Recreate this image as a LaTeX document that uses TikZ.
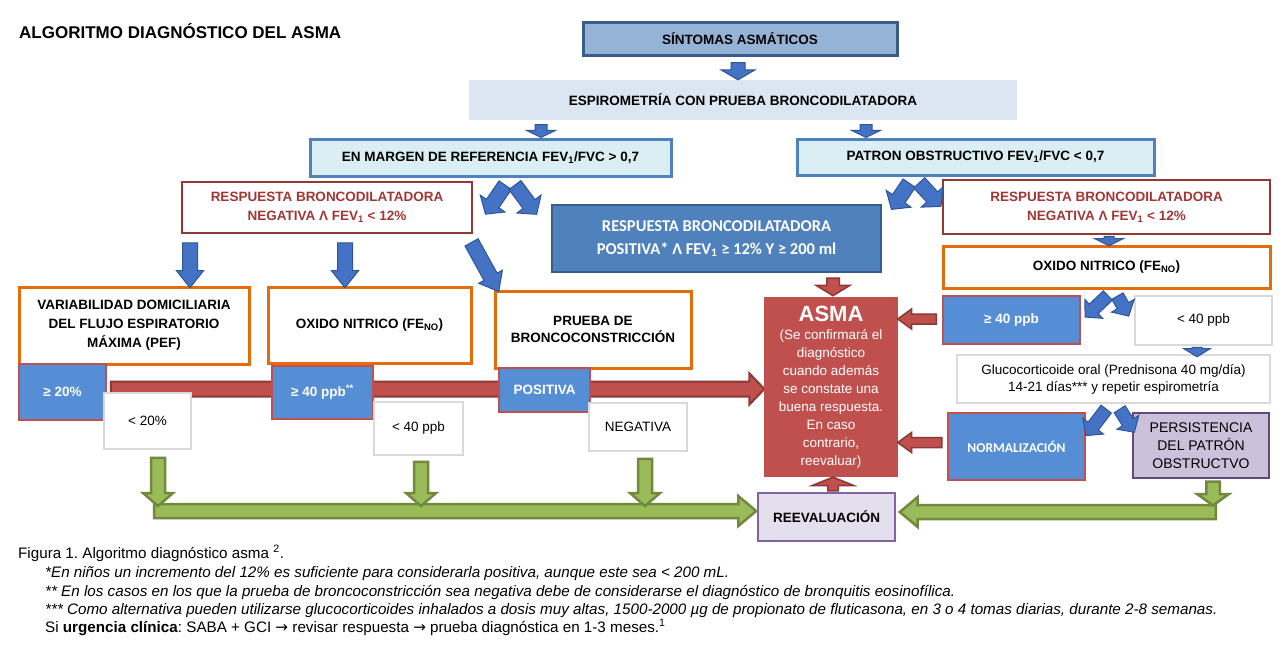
\documentclass[tikz,border=0pt]{standalone}
\usepackage{fontspec}
\setmainfont{Liberation Sans}
\newfontfamily\calfont{Carlito}
\newfontfamily\djv{DejaVu Sans}
\usetikzlibrary{shapes.arrows,calc}
\AtBeginDocument{\frenchspacing}
\pgfdeclarelayer{back}
\pgfsetlayers{back,main}
\newcommand\fs[2]{\fontsize{#1}{#2}\selectfont}
\newcommand\barrow[3]{%
  \path let \p1=#2, \p2=#3, \n1={veclen(\x2-\x1,\y2-\y1)} in
    (\p1) -- node[sloped, allow upside down, #1, minimum height=\n1]{} (\p2);}
\newcommand\bxn[7][]{%
  \pgfmathsetmacro\bxcx{(#3+#5)/2}\pgfmathsetmacro\bxcy{(#4+#6)/2}%
  \pgfmathsetmacro\bxw{#5-#3}\pgfmathsetmacro\bxh{#6-#4}%
  \node[bx, #1, minimum width=\bxw pt, minimum height=\bxh pt] (#2) at (\bxcx,\bxcy) {#7};}
\definecolor{sintF}{RGB}{149,179,215}
\definecolor{sintD}{RGB}{56,93,138}
\definecolor{espF}{RGB}{220,230,242}
\definecolor{marF}{RGB}{218,238,243}
\definecolor{marD}{RGB}{79,129,189}
\definecolor{negD}{RGB}{149,55,53}
\definecolor{negT}{RGB}{160,55,52}
\definecolor{orng}{RGB}{228,108,10}
\definecolor{posF}{RGB}{79,129,189}
\definecolor{posD}{RGB}{56,93,138}
\definecolor{bluF}{RGB}{85,142,213}
\definecolor{redD}{RGB}{192,80,77}
\definecolor{gryD}{RGB}{217,217,217}
\definecolor{asmF}{RGB}{192,80,77}
\definecolor{arrB}{RGB}{68,114,196}
\definecolor{arrBD}{RGB}{47,85,151}
\definecolor{arrR}{RGB}{192,80,77}
\definecolor{arrRD}{RGB}{140,56,54}
\definecolor{grnF}{RGB}{155,187,89}
\definecolor{grnD}{RGB}{113,137,63}
\definecolor{reeF}{RGB}{228,223,236}
\definecolor{reeD}{RGB}{128,100,162}
\definecolor{perF}{RGB}{204,193,218}
\definecolor{perD}{RGB}{96,74,123}
\tikzset{
  bx/.style={inner sep=0pt, align=center},
  bt/.style={font=\bfseries\fs{13.5}{19}},
  rt/.style={font=\fs{13.5}{17}},
  orb/.style={fill=white, draw=orng, line width=3pt, bt},
  blb/.style={fill=bluF, draw=redD, line width=2.5pt, text=white, font=\bfseries\fs{13.5}{16}},
  grb/.style={fill=white, draw=gryD, line width=1.5pt, rt},
  negb/.style={fill=white, draw=negD, line width=2.5pt, bt, text=negT},
  marb/.style={fill=marF, draw=marD, line width=3pt, bt},
  arrbase/.style={single arrow, inner sep=0pt, minimum width=0pt, single arrow head indent=0pt},
  ba/.style={arrbase, draw=arrBD, fill=arrB, line width=1pt},
  ra/.style={arrbase, draw=arrRD, fill=arrR, line width=1.5pt},
  ga/.style={arrbase, draw=grnD, fill=grnF, line width=2.5pt},
  aw/.style n args={3}{inner ysep=#1, single arrow head extend=#2, single arrow tip angle=#3},
  captxt/.style={anchor=base west, inner sep=0pt, font=\fs{15.2}{18}},
}
\begin{document}
\begin{tikzpicture}[x=1pt,y=-1pt]
\useasboundingbox (0,0) rectangle (1286,645);
\begin{pgfonlayer}{back}
\fill[white] (0,0) rectangle (1286,645);
\end{pgfonlayer}

\node[anchor=west, inner sep=0pt, font=\bfseries\fs{17}{20}] (title) at (19,31) {ALGORITMO DIAGNÓSTICO DEL ASMA};

\bxn[fill=sintF, draw=sintD, line width=3pt, bt]{sint}{583}{22}{897}{55}{SÍNTOMAS ASMÁTICOS}
\bxn[fill=espF, bt]{espi}{469}{80}{1017}{120}{ESPIROMETRÍA CON PRUEBA BRONCODILATADORA}
\bxn[marb]{margen}{310}{139}{671}{176}{EN MARGEN DE REFERENCIA FEV\textsubscript{1}/FVC > 0,7}
\bxn[marb]{patron}{797}{139}{1154}{175}{PATRON OBSTRUCTIVO FEV\textsubscript{1}/FVC < 0,7}
\bxn[negb]{negL}{182}{182}{472}{233}{RESPUESTA BRONCODILATADORA\\NEGATIVA Λ FEV\textsubscript{1} < 12\%}
\bxn[negb]{negR}{943}{180}{1270}{234}{RESPUESTA BRONCODILATADORA\\NEGATIVA Λ FEV\textsubscript{1} < 12\%}
\bxn[fill=posF, draw=posD, line width=2.5pt, text=white, font=\calfont\bfseries\fs{16.5}{23}]{posit}{552}{205}{881}{272}{RESPUESTA BRONCODILATADORA\\POSITIVA* Λ FEV\textsubscript{1} ≥ 12\% Y ≥ 200 ml}

\bxn[orb]{oxR}{943}{246}{1270}{288}{OXIDO NITRICO (FE\textsubscript{NO})}
\bxn[blb]{geR}{943}{296}{1080}{344}{≥ 40 ppb}
\bxn[grb]{ltR}{1135}{296}{1272}{345}{< 40 ppb}
\bxn[grb]{gluco}{957}{355}{1270}{403}{Glucocorticoide oral (Prednisona 40 mg/día)\\14-21 días*** y repetir espirometría}
\bxn[fill=bluF, draw=redD, line width=1.5pt, text=white, font=\calfont\bfseries\fs{13.5}{16}]{norm}{948}{413}{1085}{480}{NORMALIZACIÓN}
\bxn[fill=perF, draw=perD, line width=2.5pt, font=\fs{14}{18}]{pers}{1133}{413}{1269}{478}{PERSISTENCIA\\DEL PATRÓN\\OBSTRUCTVO}

\bxn[fill=asmF, text=white, font=\fs{13.5}{18}]{asma}{764}{297}{898}{477}{{\bfseries\fs{22}{24}ASMA}\\(Se confirmará el\\diagnóstico\\cuando además\\se constate una\\buena respuesta.\\En caso\\contrario,\\reevaluar)}
\bxn[fill=reeF, draw=reeD, line width=2pt, bt]{reev}{758}{493}{895}{541}{REEVALUACIÓN}

\bxn[orb]{var}{19}{287}{249}{364}{VARIABILIDAD DOMICILIARIA\\DEL FLUJO ESPIRATORIO\\MÁXIMA (PEF)}
\bxn[orb]{oxL}{268}{287}{471}{363}{OXIDO NITRICO (FE\textsubscript{NO})}
\bxn[orb, font=\bfseries\fs{13.5}{17}]{prueba}{495}{291}{691}{368}{PRUEBA DE\\BRONCOCONSTRICCIÓN}

\bxn[blb]{ge20}{19}{364}{106}{420}{≥ 20\%}
\bxn[grb]{lt20}{104}{393}{191}{449}{< 20\%}
\bxn[blb]{ge40}{272}{366}{373}{419}{≥ 40 ppb\textsuperscript{**}}
\bxn[grb]{lt40}{374}{402}{463}{455}{< 40 ppb}
\bxn[blb]{pos}{499}{368}{590}{412}{POSITIVA}
\bxn[grb]{negat}{589}{403}{687}{451}{NEGATIVA}

% caption
\node[captxt] (cap0) at (18,558) {Figura 1. Algoritmo diagnóstico asma \textsuperscript{2}.};
\node[captxt, font=\itshape\fs{15.2}{18}] (cap1) at (45,577) {*En niños un incremento del 12\% es suficiente para considerarla positiva, aunque este sea < 200 mL.};
\node[captxt, font=\itshape\fs{15.2}{18}] (cap2) at (45,596) {** En los casos en los que la prueba de broncoconstricción sea negativa debe de considerarse el diagnóstico de bronquitis eosinofílica.};
\node[captxt, font=\itshape\fs{15.2}{18}] (cap3) at (45,614) {*** Como alternativa pueden utilizarse glucocorticoides inhalados a dosis muy altas, 1500-2000 µg de propionato de fluticasona, en 3 o 4 tomas diarias, durante 2-8 semanas.};
\node[captxt] (cap4) at (45,632) {Si \textbf{urgencia clínica}: SABA + GCI {\djv →} revisar respuesta {\djv →} prueba diagnóstica en 1-3 meses.\textsuperscript{1}};

% big red arrow behind boxes
\begin{pgfonlayer}{back}
\barrow{ra, line width=2pt, aw={6.5pt}{8pt}{92}}{($(ge20.east)+(0,-3)$)}{($(asma.west |- ge20.east)+(-3,-3)$)}
\end{pgfonlayer}

% blue arrows
\barrow{ba, aw={6.5pt}{10pt}{119}}{($(sint.south -| 738,0)+(0,4)$)}{($(espi.north -| 738,0)+(0,-2)$)}
\barrow{ba, aw={5.5pt}{8.5pt}{128}}{($(espi.south -| 541,0)+(0,3)$)}{($(margen.north -| 541,0)+(0,-1.5)$)}
\barrow{ba, aw={5.5pt}{8.5pt}{128}}{($(espi.south -| 866,0)+(0,3)$)}{($(patron.north -| 866,0)+(0,-1.5)$)}
\barrow{ba, aw={7pt}{7.5pt}{99}}{($(margen.south -| 507,0)+(0,5)$)}{($(negL.east)+(14,4)$)}
\barrow{ba, aw={7pt}{7.5pt}{99}}{($(margen.south -| 513,0)+(0,5)$)}{($(posit.north west)+(-16,8)$)}
\barrow{ba, aw={7pt}{7.5pt}{99}}{($(patron.south -| 911,0)+(0,4)$)}{($(posit.north east)+(11,3)$)}
\barrow{ba, aw={7pt}{7.5pt}{99}}{($(patron.south -| 917,0)+(0,4)$)}{($(negR.west)+(-3,-3)$)}
\barrow{ba, aw={7pt}{6pt}{77}}{($(negL.south -| 190,0)+(0,4)$)}{($(var.north -| 190,0)+(0,-2.5)$)}
\barrow{ba, aw={7pt}{6pt}{77}}{($(negL.south -| 345,0)+(0,4)$)}{($(oxL.north -| 345,0)+(0,-2.5)$)}
\barrow{ba, aw={7pt}{6pt}{77}}{($(negL.south east)+(-4,4)$)}{($(prueba.north west)+(3,-2)$)}
\barrow{ba, aw={4.5pt}{9.5pt}{127}}{(negR.south -| 1109,0)}{(oxR.north -| 1109,0)}
\barrow{ba, aw={6pt}{6.5pt}{95}}{($(oxR.south -| 1110,0)+(0,4)$)}{($(geR.east)+(6,-5)$)}
\barrow{ba, aw={6pt}{6.5pt}{95}}{($(oxR.south -| 1116,0)+(0,4)$)}{($(ltR.west)+(-7,-7)$)}
\barrow{ba, aw={4.5pt}{8.5pt}{117}}{(ltR.south -| 1197,0)}{($(gluco.north -| 1197,0)+(0,1)$)}
\barrow{ba, aw={6pt}{6.5pt}{95}}{($(gluco.south -| 1108,0)+(0,3)$)}{($(norm.north east)+(2,21)$)}
\barrow{ba, aw={6pt}{6.5pt}{95}}{($(gluco.south -| 1118,0)+(0,3)$)}{($(pers.north west)+(1,18)$)}

% red arrows
\barrow{ra, aw={5.5pt}{10.5pt}{117}}{($(posit.south -| 833,0)+(0,3)$)}{($(asma.north -| 833,0)+(0,-3)$)}
\barrow{ra, aw={4.25pt}{5pt}{72}}{($(geR.west)+(-2,-1)$)}{($(asma.east |- geR.west)+(3,-1)$)}
\barrow{ra, aw={4.25pt}{5pt}{72}}{($(norm.west)+(-2,-4)$)}{($(asma.east |- norm.west)+(3,-4)$)}
\barrow{ra, aw={4.5pt}{15.5pt}{136}}{(reev.north -| 833,0)}{($(asma.south -| 833,0)+(0,1)$)}

% green arrows
\coordinate (gl) at (150,511);
\coordinate (gr) at (1220,512);
\barrow{ga, aw={5.75pt}{8pt}{80}}{(gl)}{($(reev.west |- gl)+(-5,0)$)}
\barrow{ga, aw={5.75pt}{8pt}{80}}{(gr)}{($(reev.east |- gr)+(8,0)$)}
\barrow{ga, aw={5.75pt}{8pt}{98}}{($(lt20.south -| 158,0)+(0,5)$)}{($(158,0 |- gl)+(0,-8)$)}
\barrow{ga, aw={5.75pt}{8pt}{98}}{($(lt40.south -| 421,0)+(0,3)$)}{($(421,0 |- gl)+(0,-8)$)}
\barrow{ga, aw={5.75pt}{8pt}{98}}{($(negat.south -| 645,0)+(0,4)$)}{($(645,0 |- gl)+(0,-8)$)}
\barrow{ga, aw={5.5pt}{9pt}{109}}{(pers.south -| 1213,0)}{($(1213,0 |- gr)+(0,-9)$)}
\end{tikzpicture}
\end{document}
